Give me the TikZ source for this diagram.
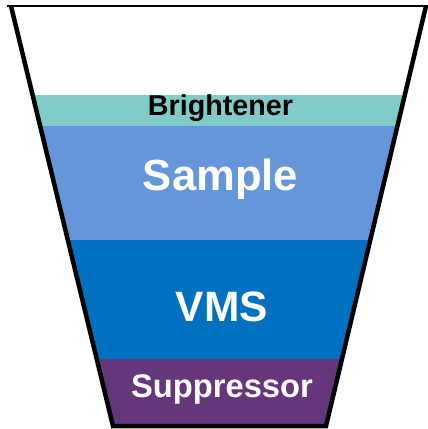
\documentclass[tikz,border=0pt]{standalone}
\usepackage{fontspec}
\setmainfont{Liberation Sans}
\definecolor{cteal}{RGB}{128,204,200}
\definecolor{csample}{RGB}{101,150,218}
\definecolor{cvms}{RGB}{0,112,192}
\definecolor{csupp}{RGB}{102,54,122}
\begin{document}
\begin{tikzpicture}[x=1pt,y=-1pt,
  lbl/.style={font=\bfseries, inner sep=0pt, anchor=center}]
\useasboundingbox (0,0) rectangle (428,429);
\coordinate (tl) at (11,6);
\coordinate (bl) at (113,426);
\coordinate (br) at (326,426);
\coordinate (tr) at (426,6);
\begin{scope}
  \clip (tl) -- (bl) -- (br) -- (tr) -- cycle;
  \fill[cteal] (0,95) rectangle (428,126);
  \fill[csample] (0,126) rectangle (428,240);
  \fill[cvms] (0,240) rectangle (428,359);
  \fill[csupp] (0,359) rectangle (428,429);
\end{scope}
\draw[line width=4.5pt, line join=miter] (tl) -- (bl) -- (br) -- (tr);
\draw[line width=2.5pt] (7,6) -- (428,6);
\node[lbl, font=\bfseries\fontsize{28.7}{30}\selectfont, text=black] (bri) at (220.5,108) {Brightener};
\node[lbl, font=\bfseries\fontsize{43.6}{46}\selectfont, text=white] (sam) at (220.5,179) {Sample};
\node[lbl, font=\bfseries\fontsize{42.5}{46}\selectfont, text=white] (vms) at (222,307) {VMS};
\node[lbl, font=\bfseries\fontsize{32.7}{34}\selectfont, text=white] (sup) at (222,389) {Suppressor};
\end{tikzpicture}
\end{document}
